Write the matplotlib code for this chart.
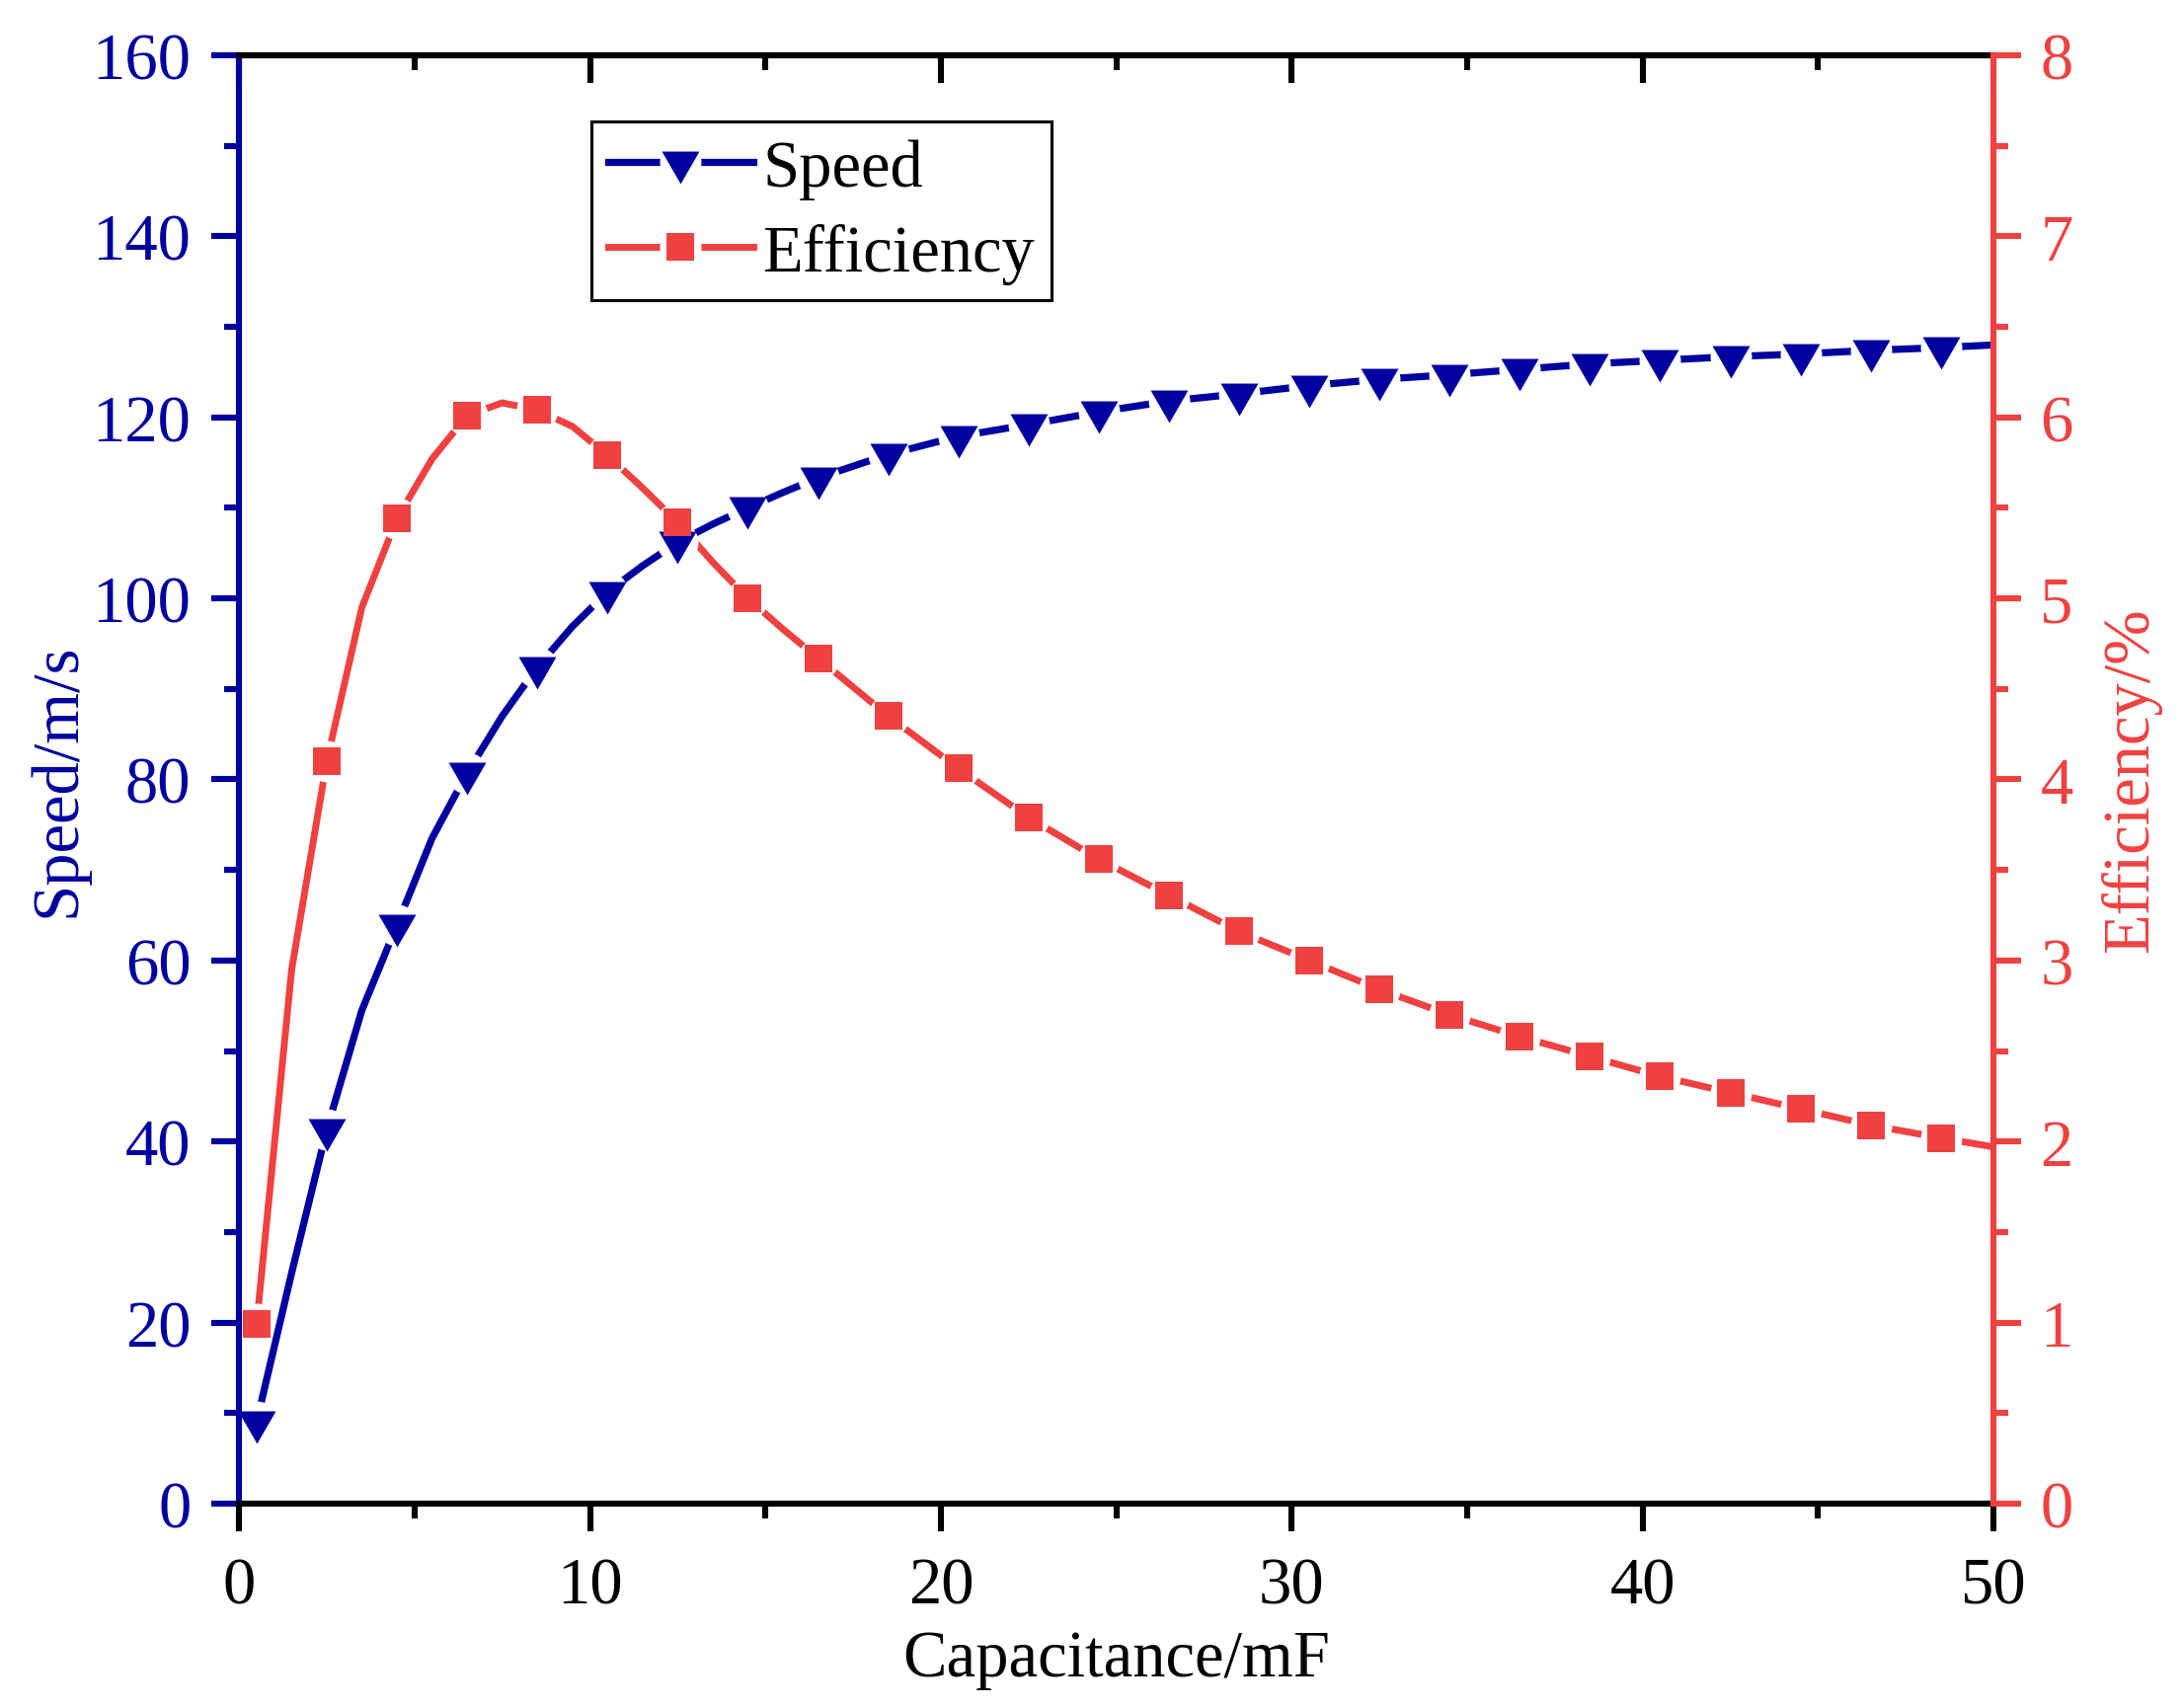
import matplotlib
matplotlib.use('Agg')
import matplotlib.pyplot as plt
from matplotlib.ticker import MultipleLocator

# marker points (every 2 mF)
cap = [0.5, 2.5, 4.5, 6.5, 8.5, 10.5, 12.5, 14.5, 16.5, 18.5, 20.5, 22.5, 24.5,
       26.5, 28.5, 30.5, 32.5, 34.5, 36.5, 38.5, 40.5, 42.5, 44.5, 46.5, 48.5]
speed = [9.0, 41.3, 63.9, 80.7, 92.4, 100.7, 106.2, 110.0, 113.3, 115.9, 117.9, 119.2, 120.6,
         121.8, 122.6, 123.5, 124.2, 124.7, 125.3, 125.9, 126.3, 126.7, 127.0, 127.4, 127.7]
eff = [0.99, 4.10, 5.44, 6.01, 6.04, 5.79, 5.42, 5.00, 4.67, 4.35, 4.06, 3.79, 3.56,
       3.36, 3.16, 3.00, 2.84, 2.70, 2.58, 2.47, 2.36, 2.27, 2.18, 2.09, 2.02]

# curve points
cap_curve = [0.5, 1.5, 2.5, 3.5, 4.5, 5.5, 6.5, 7.5, 8.5, 9.5, 10.5, 11.5, 12.5, 13.5,
             14.5, 15.5, 16.5, 18.5, 20.5, 22.5, 24.5, 26.5, 28.5, 30.5, 32.5, 34.5,
             36.5, 38.5, 40.5, 42.5, 44.5, 46.5, 48.5, 50.0]
speed_curve = [9.0, 25.5, 41.3, 54.5, 63.9, 73.5, 80.7, 87.0, 92.4, 96.9, 100.7, 103.6, 106.2, 108.2,
               110.0, 111.7, 113.3, 115.9, 117.9, 119.2, 120.6, 121.8, 122.6, 123.5, 124.2, 124.7,
               125.3, 125.9, 126.3, 126.7, 127.0, 127.4, 127.7, 128.0]
eff_curve = [0.99, 2.95, 4.10, 4.95, 5.44, 5.77, 6.01, 6.08, 6.04, 5.95, 5.79, 5.61, 5.42, 5.20,
             5.00, 4.83, 4.67, 4.35, 4.06, 3.79, 3.56, 3.36, 3.16, 3.00, 2.84, 2.70,
             2.58, 2.47, 2.36, 2.27, 2.18, 2.09, 2.02, 1.97]

blue = '#0000A0'
red = '#F04141'

plt.rcParams['font.family'] = ['Liberation Serif', 'DejaVu Serif']
plt.rcParams['font.size'] = 48

fig = plt.figure(figsize=(22.11, 17.31), dpi=100)
ax = fig.add_axes([0.1095, 0.1196, 0.8037, 0.8475])
ax2 = ax.twinx()
ax.set_xlim(0, 50)
ax.set_ylim(0, 160)
ax2.set_ylim(0, 8)

# down triangle with its centroid on the data point
tri = [(-1, 0.577), (1, 0.577), (0, -1.155)]
gap = 30.2  # white disc behind each symbol -> gap in the line (Origin style)

# everything in ax so that the spines stay on top; efficiency uses ax2's scale
et = ax2.transData
l2, = ax.plot(cap_curve, eff_curve, color=red, lw=5.0, transform=et, zorder=2.0)
g2, = ax.plot(cap, eff, ls='none', marker='o', ms=gap, mfc='white', mew=0, transform=et, zorder=2.05)
l1, = ax.plot(cap_curve, speed_curve, color=blue, lw=5.2, zorder=2.1)
g1, = ax.plot(cap, speed, ls='none', marker='o', ms=gap, mfc='white', mew=0, zorder=2.15)
m1, = ax.plot(cap, speed, ls='none', marker=tri, ms=31.6, mfc=blue, mew=0, zorder=2.2)
m2, = ax.plot(cap, eff, ls='none', marker='s', ms=20.7, mfc=red, mew=0, transform=et, zorder=2.3)

ax.set_xlim(0, 50)
ax.set_ylim(0, 160)
ax2.set_ylim(0, 8)
ax.xaxis.set_major_locator(MultipleLocator(10))
ax.xaxis.set_minor_locator(MultipleLocator(5))
ax.yaxis.set_major_locator(MultipleLocator(20))
ax.yaxis.set_minor_locator(MultipleLocator(10))
ax2.yaxis.set_major_locator(MultipleLocator(1))
ax2.yaxis.set_minor_locator(MultipleLocator(0.5))

lw = 4.4
ax.tick_params(axis='x', which='both', direction='out', bottom=True, top=False,
               width=lw, colors='black', pad=18.7)
ax.tick_params(axis='y', which='both', direction='out', left=True, right=False,
               width=lw, color=blue, labelcolor=blue, pad=15)
ax2.tick_params(axis='y', which='both', direction='out', width=lw,
                color=red, labelcolor=red, pad=14)
for a in (ax, ax2):
    a.tick_params(which='major', length=20)
    a.tick_params(which='minor', length=10.8)

ax.spines['left'].set_color(blue)
ax.spines['right'].set_visible(False)
for s in ('left', 'top', 'bottom'):
    ax2.spines[s].set_visible(False)
ax2.spines['right'].set_color(red)
for sp in list(ax.spines.values()) + [ax2.spines['right']]:
    sp.set_linewidth(lw)
    sp.set_zorder(3)

# top axis: ticks pointing inwards, no labels
secax = ax.secondary_xaxis('top')
secax.xaxis.set_major_locator(MultipleLocator(10))
secax.xaxis.set_minor_locator(MultipleLocator(5))
secax.tick_params(axis='x', which='both', direction='in', labeltop=False, width=lw, color='black')
secax.tick_params(which='major', length=20)
secax.tick_params(which='minor', length=10.8)
secax.spines['top'].set_linewidth(lw)

ax.set_xlabel('Capacitance/mF', labelpad=9)
ax.set_ylabel('Speed/m/s', color=blue, labelpad=3)
ax2.set_ylabel('Efficiency/%', color=red, labelpad=20)

leg = ax2.legend([(l1, g1, m1), (l2, g2, m2)], ['Speed', 'Efficiency'],
                 loc='upper left', bbox_to_anchor=(0.201, 0.954), bbox_transform=ax.transAxes,
                 borderaxespad=0, fancybox=False, edgecolor='black', framealpha=1,
                 handlelength=2.2, handletextpad=0.15, borderpad=0.25, labelspacing=0.36,
                 fontsize=48)
leg.get_frame().set_linewidth(2.2)

fig.savefig('out.png', dpi=100)
